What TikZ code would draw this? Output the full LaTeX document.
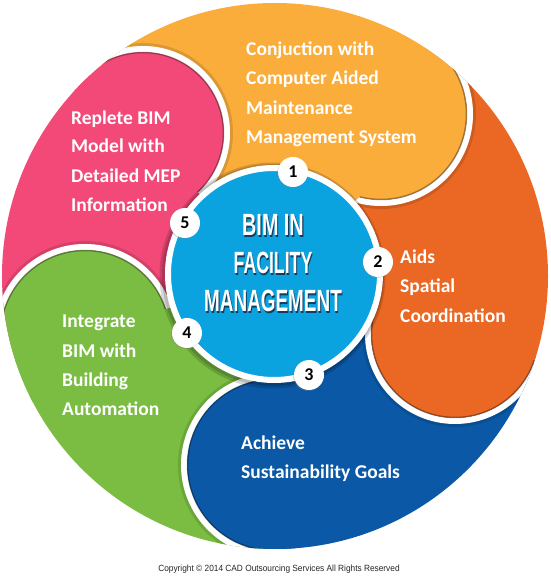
\documentclass[tikz,border=0pt]{standalone}
\usepackage{fontspec}
\usepackage{graphicx}
\setmainfont{Carlito}
\newfontfamily\condfont{Liberation Sans Bold}
\newfontfamily\arialfont[FakeStretch=0.924]{Liberation Sans}
\usetikzlibrary{calc,shadows}
\definecolor{cYel}{RGB}{250,173,59}
\definecolor{cOra}{RGB}{234,104,36}
\definecolor{cBlu}{RGB}{11,89,166}
\definecolor{cGre}{RGB}{122,189,66}
\definecolor{cPin}{RGB}{243,73,120}
\definecolor{cCen}{RGB}{10,163,224}
\definecolor{cShd}{RGB}{20,60,95}
\newcommand\shadowed[2]{\scalebox{#1}[1]{\makebox[0pt][l]{\hspace{1.6pt}\raisebox{-1.6pt}{\textcolor{cShd}{#2}}}#2}}
\tikzset{
  lobewhite/.style={draw=white, line width=6pt},
  lobedark/.style={draw=black, opacity=0.35, line width=1.5pt},
  lobeshade/.style={draw=black, opacity=0.12, line width=3pt},
  numdisk/.style={circle, fill=white, minimum size=30pt, inner sep=0pt, text=black,
    font=\bfseries\fontsize{18}{18}\selectfont,
    drop shadow={opacity=0.3, shadow xshift=-1pt, shadow yshift=-1pt}},
  lab/.style={anchor=base west, inner sep=0pt, text=white, font=\bfseries\fontsize{19.5}{20}\selectfont},
  ctext/.style={anchor=base, inner sep=0pt, text=white, font=\condfont\fontsize{30.7}{31}\selectfont}
}
\begin{document}
\begin{tikzpicture}[x=1pt,y=1pt]
\useasboundingbox (0,0) rectangle (550,576);
\fill[white] (0,0) rectangle (550,576);
% key points
\coordinate (C) at (274,302);
\coordinate (O) at (275,300);
\coordinate (Ly) at (381,462);
\coordinate (Lp) at (143,443);
\coordinate (Lg) at (85,241);
\coordinate (Lb) at (273,111);
\coordinate (Lo) at (455,242);
\coordinate (Ay) at ($(C)+(42:118)$);
\coordinate (Ap) at ($(C)+(132.9:115)$);
\coordinate (Ag) at ($(C)+(197.9:116)$);
\coordinate (Ab) at ($(C)+(269.7:115)$);
\coordinate (Ao) at ($(C)+(341.7:115)$);
\coordinate (Fy) at ($(C)+(56.2:800)$);
\coordinate (Fp) at ($(C)+(132.9:800)$);
\coordinate (Fg) at ($(C)+(197.9:800)$);
\coordinate (Fb) at ($(C)+(269.7:800)$);
\coordinate (Fo) at ($(C)+(341.7:800)$);
\coordinate (My) at ($(C)+(94.55:800)$);
\coordinate (Mp) at ($(C)+(165.4:800)$);
\coordinate (Mg) at ($(C)+(233.8:800)$);
\coordinate (Mb) at ($(C)+(305.7:800)$);
\coordinate (Mo) at ($(C)+(18.95:800)$);
\def\regY{(C) -- (Ay) -- (Ly) -- (Fy) -- (My) -- (Fp) -- (Lp) -- (Ap) -- cycle}
\def\regP{(C) -- (Ap) -- (Lp) -- (Fp) -- (Mp) -- (Fg) -- (Lg) -- (Ag) -- cycle}
\def\regG{(C) -- (Ag) -- (Lg) -- (Fg) -- (Mg) -- (Fb) -- (Lb) -- (Ab) -- cycle}
\def\regB{(C) -- (Ab) -- (Lb) -- (Fb) -- (Mb) -- (Fo) -- (Lo) -- (Ao) -- cycle}
\def\regO{(C) -- (Ao) -- (Lo) -- (Fo) -- (Mo) -- (Fy) -- (Ly) -- (Ay) -- cycle}
% sectors and lobe fills
\begin{scope}
  \clip (O) circle[radius=273];
  \fill[cYel] \regY;
  \fill[cPin] \regP;
  \fill[cGre] \regG;
  \fill[cBlu] \regB;
  \fill[cOra] \regO;
  \fill[cYel] (Ly) circle[radius=86];
  \fill[cPin] (Lp) circle[radius=81];
  \fill[cGre] (Lg) circle[radius=85];
  \fill[cBlu] (Lb) circle[radius=86];
  \fill[cOra] (Lo) circle[radius=84];
\end{scope}
% lobe borders (only on the side facing the clockwise neighbour)
\begin{scope}
  \clip (O) circle[radius=273];
  \clip \regO;
  \draw[lobeshade] (Ly) circle[radius=93.5];
  \draw[lobewhite] (Ly) circle[radius=89];
  \draw[lobedark] (Ly) circle[radius=85.5];
\end{scope}
\begin{scope}
  \clip (O) circle[radius=273];
  \clip \regY;
  \draw[lobeshade] (Lp) circle[radius=88.5];
  \draw[lobewhite] (Lp) circle[radius=84];
  \draw[lobedark] (Lp) circle[radius=80.5];
\end{scope}
\begin{scope}
  \clip (O) circle[radius=273];
  \clip \regP;
  \draw[lobeshade] (Lg) circle[radius=92.5];
  \draw[lobewhite] (Lg) circle[radius=88];
  \draw[lobedark] (Lg) circle[radius=84.5];
\end{scope}
\begin{scope}
  \clip (O) circle[radius=273];
  \clip \regG;
  \draw[lobeshade] (Lb) circle[radius=93.5];
  \draw[lobewhite] (Lb) circle[radius=89];
  \draw[lobedark] (Lb) circle[radius=85.5];
\end{scope}
\begin{scope}
  \clip (O) circle[radius=273];
  \clip \regB;
  \draw[lobeshade] (Lo) circle[radius=91.5];
  \draw[lobewhite] (Lo) circle[radius=87];
  \draw[lobedark] (Lo) circle[radius=83.5];
\end{scope}
% central circle
\fill[black, opacity=0.15] ($(C)+(-1.5,-1.5)$) circle[radius=113];
\fill[black, opacity=0.15] ($(C)+(-1,-1)$) circle[radius=111];
\node[circle, fill=cCen, draw=white, line width=6pt, minimum size=212pt, inner sep=0pt] (ctr) at (C) {};
% numbers
\node[numdisk] (n1) at (293,404) {1};
\node[numdisk] (n2) at (378,314) {2};
\node[numdisk] (n3) at (309,201) {3};
\node[numdisk] (n4) at (187,243) {4};
\node[numdisk] (n5) at (185,353) {5};
% central title
\node[ctext] (t1) at (273,340) {\shadowed{0.645}{BIM IN}};
\node[ctext] (t2) at (273,302) {\shadowed{0.576}{FACILITY}};
\node[ctext] (t3) at (273,264) {\shadowed{0.616}{MANAGEMENT}};
% petal labels
\node[lab] (y1) at (246,520) {Conjuction with};
\node[lab] (y2) at (246,491) {Computer Aided};
\node[lab] (y3) at (246,461) {Maintenance};
\node[lab] (y4) at (246,432) {Management System};
\node[lab] (p1) at (71,451) {Replete BIM};
\node[lab] (p2) at (71,423) {Model with};
\node[lab] (p3) at (71,393) {Detailed MEP};
\node[lab] (p4) at (71,364) {Information};
\node[lab] (g1) at (62,248) {Integrate};
\node[lab] (g2) at (62,218) {BIM with};
\node[lab] (g3) at (62,189) {Building};
\node[lab] (g4) at (62,160) {Automation};
\node[lab] (o1) at (400,312) {Aids};
\node[lab] (o2) at (400,283) {Spatial};
\node[lab] (o3) at (400,253) {Coordination};
\node[lab] (b1) at (241,126) {Achieve};
\node[lab] (b2) at (241,97) {Sustainability Goals};
% copyright
\node[anchor=base, inner sep=0pt, text=black!85, font=\arialfont\fontsize{9}{9}\selectfont] (copy) at (279,5) {Copyright \textcopyright{} 2014 CAD Outsourcing Services All Rights Reserved};
\end{tikzpicture}
\end{document}
